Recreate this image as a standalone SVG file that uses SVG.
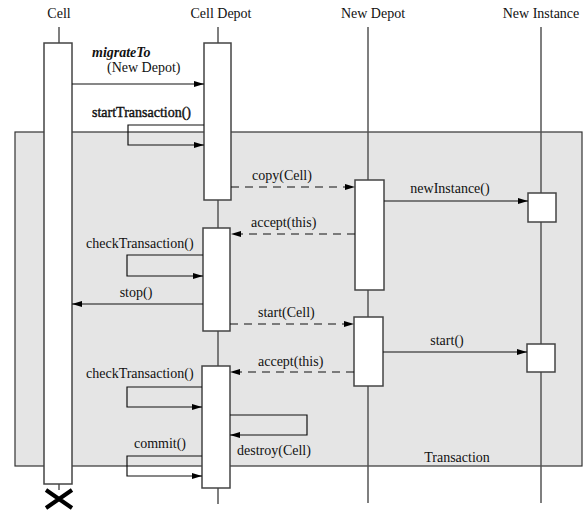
<svg xmlns="http://www.w3.org/2000/svg" width="584" height="511" viewBox="0 0 584 511">
<defs>
<marker id="ah" markerWidth="10" markerHeight="6" refX="10" refY="3" orient="auto" markerUnits="userSpaceOnUse">
<path d="M0,0 L10,3 L0,6 Z" fill="#000"/>
</marker>
<style>
text{font-family:"Liberation Serif","Times New Roman",serif;font-size:14px;fill:#111}
.life{stroke:#555;stroke-width:1.5;fill:none}
.act{fill:#fff;stroke:#444;stroke-width:1.5}
.msg{stroke:#111;stroke-width:1.2;fill:none;marker-end:url(#ah)}
.ret{stroke:#111;stroke-width:1.2;fill:none;stroke-dasharray:8,6;marker-end:url(#ah)}
.c{text-anchor:middle}
</style>
</defs>
<rect width="584" height="511" fill="#fff"/>
<g id="transaction">
<rect x="15" y="132" width="567" height="334" fill="#e5e5e5" stroke="#333" stroke-width="1.2"/>
<text x="457" y="462" class="c">Transaction</text>
</g>
<g id="cell">
<text x="59" y="18" class="c">Cell</text>
<line class="life" x1="59" y1="27" x2="59" y2="43"/>
<line class="life" x1="59" y1="484" x2="59" y2="490"/>
<rect class="act" x="44" y="43" width="28" height="441"/>
<path d="M46,490 L72,508 M72,490 L46,508" stroke="#000" stroke-width="4"/>
</g>
<g id="cell-depot">
<text x="221" y="18" class="c">Cell Depot</text>
<line class="life" x1="218" y1="27" x2="218" y2="504"/>
<rect class="act" x="204" y="43" width="27" height="157"/>
<rect class="act" x="203" y="228" width="27" height="103"/>
<rect class="act" x="202" y="366" width="28" height="122"/>
</g>
<g id="new-depot">
<text x="373" y="18" class="c">New Depot</text>
<line class="life" x1="368" y1="27" x2="368" y2="503"/>
<rect class="act" x="355" y="180" width="29" height="110"/>
<rect class="act" x="354" y="317" width="29" height="69"/>
</g>
<g id="new-instance">
<text x="541" y="18" class="c">New Instance</text>
<line class="life" x1="541" y1="27" x2="541" y2="503"/>
<rect class="act" x="528" y="193" width="28" height="29"/>
<rect class="act" x="527" y="344" width="28" height="28"/>
</g>
<g id="connectors">
<line class="msg" x1="72" y1="84" x2="204" y2="84"/>
<text x="92" y="57" font-weight="bold" font-style="italic">migrateTo</text>
<text x="107" y="72">(New Depot)</text>
<polyline class="msg" points="204,125 128,125 128,145 204,145"/>
<text x="92" y="117" stroke="#111" stroke-width="0.4">startTransaction()</text>
<line class="ret" x1="231" y1="187" x2="355" y2="187"/>
<text x="252" y="180">copy(Cell)</text>
<line class="msg" x1="384" y1="201" x2="528" y2="201"/>
<text x="450" y="193" class="c">newInstance()</text>
<line class="ret" x1="355" y1="234" x2="231" y2="234"/>
<text x="251" y="227">accept(this)</text>
<polyline class="msg" points="203,255 127,255 127,276 203,276"/>
<text x="86" y="248">checkTransaction()</text>
<line class="msg" x1="203" y1="304" x2="72" y2="304"/>
<text x="136" y="297" class="c">stop()</text>
<line class="ret" x1="230" y1="324" x2="354" y2="324"/>
<text x="258" y="317">start(Cell)</text>
<line class="msg" x1="383" y1="352" x2="527" y2="352"/>
<text x="447" y="345" class="c">start()</text>
<line class="ret" x1="354" y1="372" x2="230" y2="372"/>
<text x="258" y="366">accept(this)</text>
<polyline class="msg" points="202,387 127,387 127,407 202,407"/>
<text x="86" y="378">checkTransaction()</text>
<polyline class="msg" points="230,415 307,415 307,435 230,435"/>
<text x="237" y="455">destroy(Cell)</text>
<polyline class="msg" points="202,456 127,456 127,476 202,476"/>
<text x="160" y="448" class="c">commit()</text>
</g>
</svg>
